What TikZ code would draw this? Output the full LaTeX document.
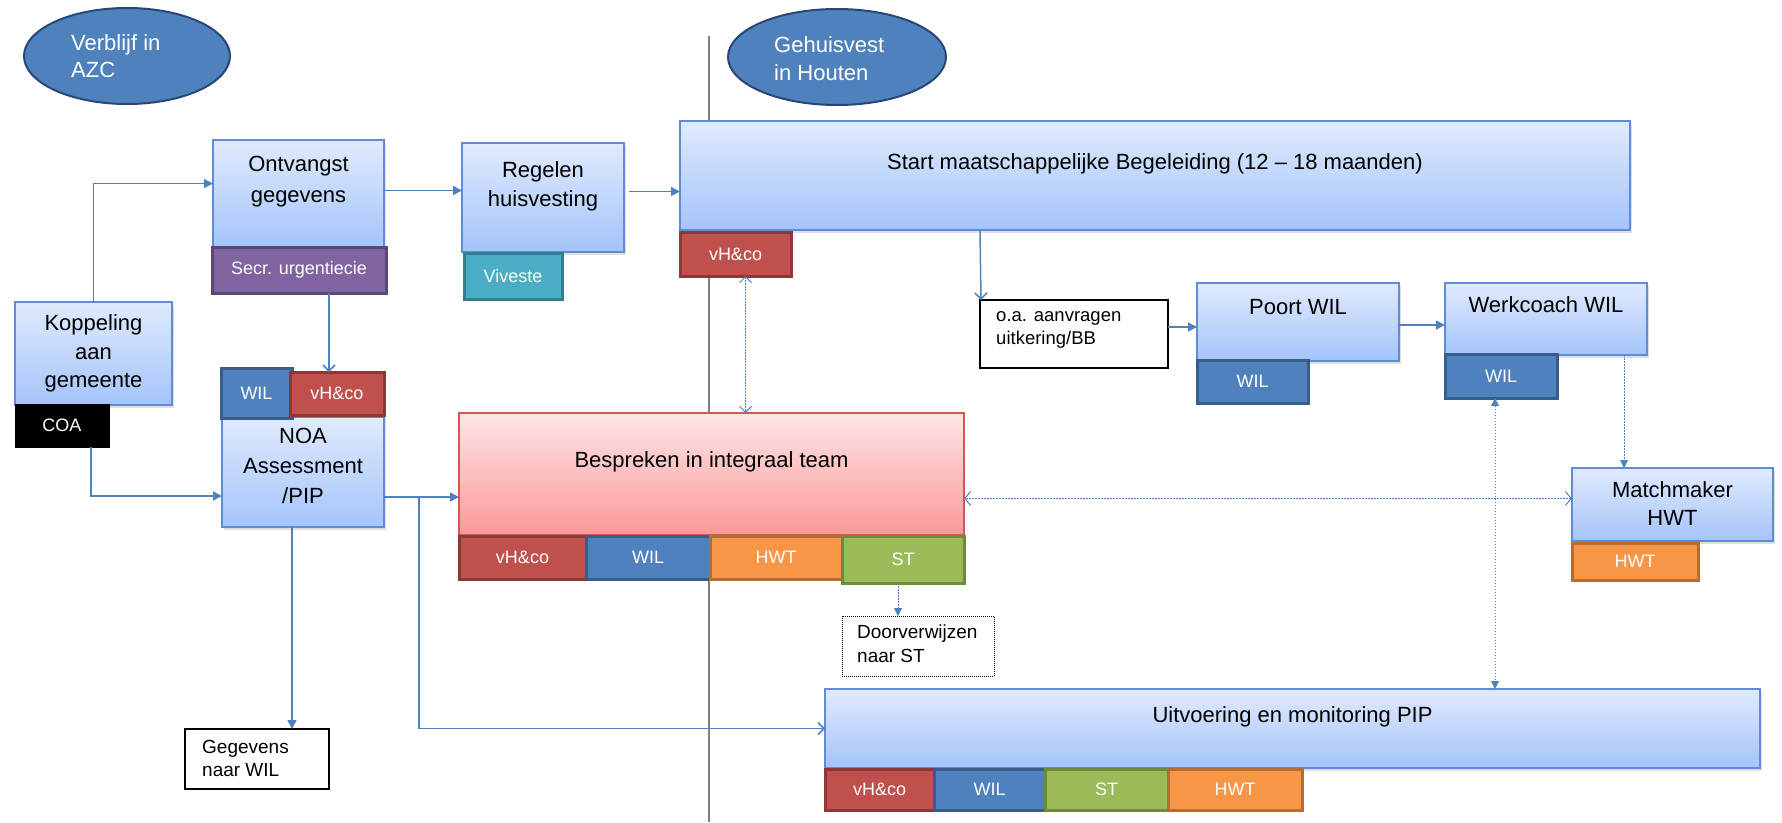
\documentclass[tikz,border=0pt]{standalone}
\usepackage{fontspec}
\setmainfont{Liberation Sans}
\usetikzlibrary{shapes.geometric,arrows.meta,shadows}
\definecolor{boxline}{RGB}{95,140,212}
\definecolor{boxtop}{RGB}{224,234,253}
\definecolor{boxbot}{RGB}{164,196,250}
\definecolor{ellfill}{RGB}{79,129,189}
\definecolor{elldraw}{RGB}{40,70,120}
\definecolor{redf}{RGB}{192,80,77}
\definecolor{redd}{RGB}{140,56,54}
\definecolor{bluef}{RGB}{79,129,189}
\definecolor{blued}{RGB}{56,93,138}
\definecolor{orf}{RGB}{247,150,70}
\definecolor{ord}{RGB}{182,109,49}
\definecolor{grf}{RGB}{155,187,89}
\definecolor{grd}{RGB}{113,137,63}
\definecolor{puf}{RGB}{128,100,162}
\definecolor{pud}{RGB}{92,71,118}
\definecolor{tef}{RGB}{75,172,198}
\definecolor{ted}{RGB}{53,125,145}
\definecolor{pinkt}{RGB}{253,230,230}
\definecolor{pinkb}{RGB}{250,152,152}
\definecolor{pinkd}{RGB}{215,85,85}
\definecolor{arrc}{RGB}{79,129,189}
\definecolor{gline}{RGB}{128,128,128}
\tikzset{
  box/.style={anchor=north west, inner sep=0pt, outer sep=0pt},
  sz/.style 2 args={minimum width=#1pt, minimum height=#2pt},
  bluebox/.style={box, draw=boxline, line width=1.5pt, top color=boxtop, bottom color=boxbot,
    drop shadow={shadow xshift=2pt, shadow yshift=-3pt, opacity=0.25}},
  pinkbox/.style={box, draw=pinkd, line width=1.2pt, top color=pinkt, bottom color=pinkb},
  plainbox/.style={box, draw=black, line width=2pt, fill=white},
  tag/.style={box, line width=3pt, text=white, font=\fontsize{18}{22}\selectfont},
  redtag/.style={tag, fill=redf, draw=redd},
  bluetag/.style={tag, fill=bluef, draw=blued},
  ortag/.style={tag, fill=orf, draw=ord},
  grtag/.style={tag, fill=grf, draw=grd},
  putag/.style={tag, fill=puf, draw=pud},
  tetag/.style={tag, fill=tef, draw=ted},
  blacktag/.style={tag, fill=black, draw=black, line width=1pt},
  oval/.style={ellipse, fill=ellfill, draw=elldraw, line width=2pt, inner sep=0pt},
  maintxt/.style={align=center, inner sep=0pt, text=black},
  smalltxt/.style={align=left, inner sep=0pt, anchor=west, text=black},
  conn/.style={draw=arrc, line width=1.5pt},
  fa/.style={conn, -{Triangle[length=9pt,width=9pt]}},
  va/.style={conn, -{Straight Barb[length=6pt,width=12pt]}},
  dconn/.style={draw=arrc, line width=1pt, dash pattern=on 1.5pt off 1.5pt},
}
\begin{document}
\begin{tikzpicture}[x=1pt,y=-1pt]
\useasboundingbox (0,0) rectangle (1782,822);
% divider line
\coordinate (gtop) at (709,36);
\coordinate (gbot) at (709,822);
\draw[gline, line width=1.5pt] (gtop) -- (gbot);

% ellipses
\node[oval, minimum width=206pt, minimum height=96pt] (azc) at (127,56) {};
\node[smalltxt, text=white, font=\fontsize{22}{27}\selectfont] (azct) at (71,56) {Verblijf in\\AZC};
\node[oval, minimum width=218pt, minimum height=96pt] (geh) at (837,57) {};
\node[smalltxt, text=white, font=\fontsize{22}{28}\selectfont] (geht) at (774,59) {Gehuisvest\\in Houten};

% top row
\node[bluebox, sz={171}{107}] (ontv) at (213,140) {};
\node[maintxt, font=\fontsize{22}{31}\selectfont] (ontvt) at (298.5,181.5) {Ontvangst\\gegevens};
\node[putag, sz={174}{46}] (secr) at (212,247) {Secr. urgentiecie};

\node[bluebox, sz={162}{109}] (reg) at (462,143) {};
\node[maintxt, font=\fontsize{22}{29}\selectfont] (regt) at (543,186.5) {Regelen\\huisvesting};
\node[tetag, sz={98}{46}] (viv) at (464,253) {Viveste};

\node[bluebox, sz={950}{109}] (start) at (680,121) {};
\node[maintxt, font=\fontsize{22}{29}\selectfont] (startt) at (1155,164) {Start maatschappelijke Begeleiding (12 – 18 maanden)};
\node[redtag, sz={111}{44}] (vhs) at (680,232) {vH\&co};

% left column
\node[bluebox, sz={157}{103}] (kop) at (15,302) {};
\node[maintxt, font=\fontsize{22}{28.5}\selectfont] (kopt) at (93.5,353.5) {Koppeling\\aan\\gemeente};
\node[blacktag, sz={94}{43}] (coa) at (15,404) {COA};

\node[bluebox, sz={162}{110}] (noa) at (222,417) {};
\node[maintxt, font=\fontsize{22}{30}\selectfont] (noat) at (303,466) {NOA\\Assessment\\/PIP};
\node[bluetag, sz={71}{50}] (noawil) at (221,368) {WIL};
\node[redtag, sz={94}{43}] (noavh) at (290,372) {vH\&co};

\node[plainbox, sz={144}{60}] (geg) at (185,729) {};
\node[smalltxt, font=\fontsize{19}{23}\selectfont] (gegt) at (202,758.5) {Gegevens\\naar WIL};

% integral team
\node[pinkbox, sz={505}{122}] (pink) at (459,413) {};
\node[maintxt, font=\fontsize{22}{29}\selectfont] (pinkt) at (711.5,462) {Bespreken in integraal team};
\node[redtag, sz={127}{43}] (pvh) at (459,536) {vH\&co};
\node[bluetag, sz={124}{43}] (pwil) at (586,536) {WIL};
\node[ortag, sz={132}{43}] (phwt) at (710,536) {HWT};
\node[grtag, sz={122}{47}] (pst) at (842,536) {ST};

\node[box, draw=black, line width=0.8pt, dash pattern=on 1pt off 1pt, fill=white, sz={152}{60}] (door) at (842,616) {};
\node[smalltxt, font=\fontsize{19}{24}\selectfont] (doort) at (857,644) {Doorverwijzen\\naar ST};

% right part
\node[plainbox, sz={188}{68}] (oa) at (980,300) {};
\node[smalltxt, font=\fontsize{18.5}{23}\selectfont] (oat) at (996,329.5) {o.a. aanvragen\\uitkering/BB};

\node[bluebox, sz={202}{78}] (poort) at (1197,283) {};
\node[maintxt, font=\fontsize{22}{29}\selectfont] (poortt) at (1298,307) {Poort WIL};
\node[bluetag, sz={111}{43}] (poortwil) at (1197,360) {WIL};

\node[bluebox, sz={202}{72}] (wc) at (1445,283) {};
\node[maintxt, font=\fontsize{22}{29}\selectfont] (wct) at (1546,305) {Werkcoach WIL};
\node[bluetag, sz={112}{44}] (wcwil) at (1445,354) {WIL};

\node[bluebox, sz={201}{73}] (mm) at (1572,468) {};
\node[maintxt, font=\fontsize{22}{28}\selectfont] (mmt) at (1672.5,504) {Matchmaker\\HWT};
\node[ortag, sz={126}{37}] (mmhwt) at (1572,543) {HWT};

\node[bluebox, sz={935}{79}] (uitv) at (825,689) {};
\node[maintxt, font=\fontsize{22}{29}\selectfont] (uitvt) at (1292.5,717) {Uitvoering en monitoring PIP};
\node[redtag, sz={109}{41}] (u1) at (825,769) {vH\&co};
\node[bluetag, sz={111}{41}] (u2) at (934,769) {WIL};
\node[grtag, sz={123}{41}] (u3) at (1045,769) {ST};
\node[ortag, sz={134}{41}] (u4) at (1168,769) {HWT};

% connectors
\draw[fa] (kop.north) |- ([yshift=10pt]ontv.west);
\draw[fa] ([yshift=3pt]ontv.east) -- ([yshift=3pt]ontv.east -| reg.west);
\draw[fa] ([xshift=5pt,yshift=6pt]reg.east) -- ([yshift=6pt]reg.east -| start.west);
\draw[va] ([xshift=30pt]secr.south) -- ([xshift=30pt]secr.south |- noavh.north);
\draw[fa] ([xshift=-18pt]coa.south east) |- ([yshift=-24pt]noa.west);
\draw[fa] ([yshift=-25pt]noa.east) coordinate (b1) -- (b1 -| pink.west);
\coordinate (br) at (419,497);
\draw[va] (br) |- (uitv.west);
\draw[fa] ([xshift=-11pt]noa.south) -- ([xshift=-11pt]noa.south |- geg.north);
\draw[dconn, -{Triangle[length=8pt,width=8pt]}] ([xshift=-5pt]pst.south) -- ([xshift=-5pt]pst.south |- door.north);
\draw[dconn, {Straight Barb[length=6pt,width=12pt]}-{Straight Barb[length=6pt,width=12pt]}] ([xshift=10pt]vhs.south) -- ([xshift=10pt]vhs.south |- pink.north);
\draw[va] (start.south -| oa.north west) -- ([xshift=1pt]oa.north west);
\draw[fa] ([yshift=7pt]oa.east) -- ([yshift=7pt]oa.east -| poort.west);
\draw[fa] ([yshift=-3pt]poort.east) -- ([yshift=-3pt]poort.east -| wc.west);
\draw[dconn, -{Triangle[length=8pt,width=8pt]}] ([xshift=-23pt]wc.south east) -- ([xshift=-23pt]wc.south east |- mm.north);
\draw[dconn, {Triangle[length=8pt,width=8pt]}-{Triangle[length=8pt,width=8pt]}] ([xshift=-6pt]wcwil.south) -- ([xshift=-6pt]wcwil.south |- uitv.north);
\draw[dconn, {Straight Barb[length=6pt,width=14pt]}-{Straight Barb[length=6pt,width=14pt]}] ([yshift=6pt]mm.west) -- ([yshift=6pt]mm.west -| pink.east);
\end{tikzpicture}
\end{document}
